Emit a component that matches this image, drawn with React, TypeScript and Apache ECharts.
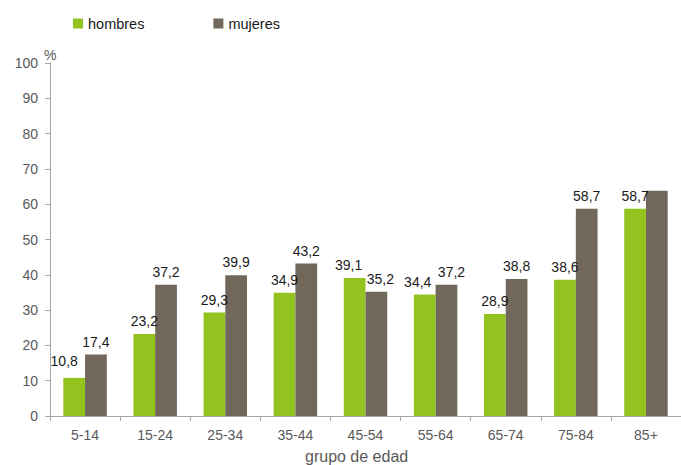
import React, { useEffect, useRef } from "react";
import * as echarts from "echarts";

const categories = ["5-14", "15-24", "25-34", "35-44", "45-54", "55-64", "65-74", "75-84", "85+"];
const hombres = [10.8, 23.2, 29.3, 34.9, 39.1, 34.4, 28.9, 38.6, 58.7];
const mujeres = [17.4, 37.2, 39.9, 43.2, 35.2, 37.2, 38.8, 58.7, 63.8];
const hiddenLabelIndex = [8]; // mujeres label cut off at the top right in the reference

const fmt = (v: number) => v.toFixed(1).replace(".", ",");

const hombresLabelOffsets: Record<number, number[]> = { 0: [-10, -4], 4: [-6, 0], 5: [-7, 0] };
const mujeresLabelOffsets: Record<number, number[]> = { 4: [4, 0], 5: [5, 0] };

export default function App() {
  const ref = useRef<HTMLDivElement>(null);
  useEffect(() => {
    document.body.style.margin = "0";
    const chart = echarts.init(ref.current!, null, { renderer: "svg" });
    const font = "Liberation Sans, Arial, sans-serif";
    const labelStyle = {
      show: true,
      position: "top" as const,
      color: "#1a1a1a",
      fontSize: 14,
      fontFamily: font,
      distance: 6,
      formatter: (p: any) => fmt(p.value),
    };
    chart.setOption({
      animation: false,
      backgroundColor: "#ffffff",
      textStyle: { fontFamily: font },
      legend: {
        left: 73,
        top: 16,
        padding: 0,
        icon: "rect",
        itemWidth: 10,
        itemHeight: 10,
        itemGap: 69,
        textStyle: { fontSize: 14.5, color: "#1a1a1a", fontFamily: font },
        data: ["hombres", "mujeres"],
      },
      grid: { left: 50, top: 63, width: 642, height: 353, containLabel: false },
      xAxis: {
        type: "category",
        data: categories,
        axisLine: { lineStyle: { color: "#a6a6a6", width: 1 } },
        axisTick: { show: true, length: 5, lineStyle: { color: "#a6a6a6" } },
        axisLabel: { color: "#595959", fontSize: 14, fontFamily: font, margin: 12 },
      },
      yAxis: {
        type: "value",
        min: 0,
        max: 100,
        interval: 10,
        splitLine: { show: false },
        axisLine: { show: true, lineStyle: { color: "#a6a6a6", width: 1 } },
        axisTick: { show: true, length: 5, lineStyle: { color: "#a6a6a6" } },
        axisLabel: { color: "#595959", fontSize: 14, fontFamily: font, margin: 12 },
      },
      graphic: [
        {
          type: "text",
          left: 44,
          top: 48,
          style: { text: "%", fill: "#595959", fontSize: 14, fontFamily: font },
        },
        {
          type: "text",
          left: 305,
          top: 448,
          style: { text: "grupo de edad", fill: "#595959", fontSize: 16, fontFamily: font },
        },
      ],
      series: [
        {
          name: "hombres",
          type: "bar",
          data: hombres.map((v, i) =>
            hombresLabelOffsets[i] ? { value: v, label: { offset: hombresLabelOffsets[i] } } : v
          ),
          barGap: "0%",
          barCategoryGap: "38%",
          itemStyle: { color: "#92c31e" },
          label: labelStyle,
        },
        {
          name: "mujeres",
          type: "bar",
          data: mujeres.map((v, i) =>
            hiddenLabelIndex.includes(i)
              ? { value: v, label: { show: false } }
              : mujeresLabelOffsets[i]
              ? { value: v, label: { offset: mujeresLabelOffsets[i] } }
              : v
          ),
          barGap: "0%",
          barCategoryGap: "38%",
          itemStyle: { color: "#71675a" },
          label: labelStyle,
        },
      ],
    });
    return () => chart.dispose();
  }, []);
  return <div ref={ref} style={{ width: 681, height: 465 }} />;
}
